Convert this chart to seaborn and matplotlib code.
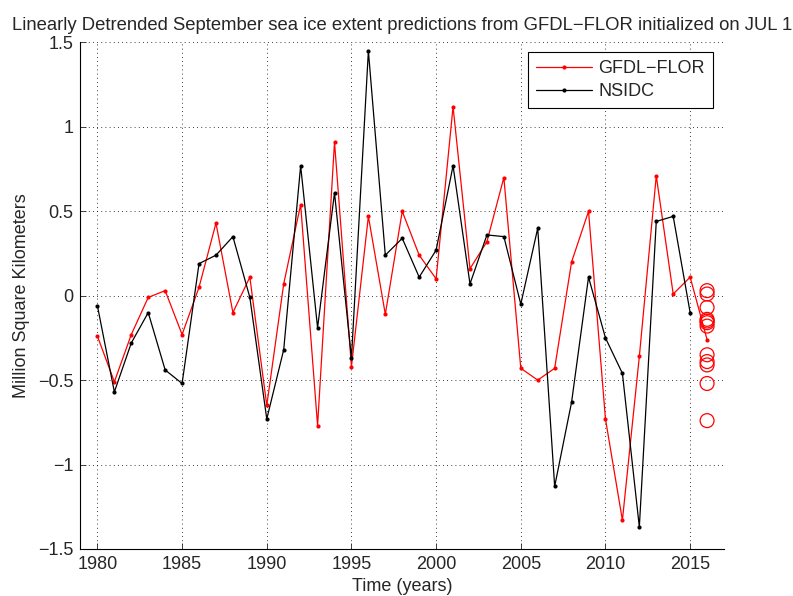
import numpy as np
import pandas as pd
import seaborn as sns
import matplotlib.pyplot as plt

years_model = list(range(1980, 2017))
gfdl_flor = [
    -0.24, -0.51, -0.23, -0.01, 0.03, -0.23, 0.05, 0.43, -0.10, 0.11,
    -0.65, 0.07, 0.54, -0.77, 0.91, -0.42, 0.47, -0.11, 0.50, 0.24,
    0.10, 1.12, 0.16, 0.32, 0.70, -0.43, -0.50, -0.43, 0.20, 0.50,
    -0.73, -1.33, -0.36, 0.71, 0.01, 0.11, -0.26,
]
years_obs = list(range(1980, 2016))
nsidc = [
    -0.06, -0.57, -0.28, -0.10, -0.44, -0.52, 0.19, 0.24, 0.35, -0.01,
    -0.73, -0.32, 0.77, -0.19, 0.61, -0.37, 1.45, 0.24, 0.34, 0.11,
    0.27, 0.77, 0.07, 0.36, 0.35, -0.05, 0.40, -1.13, -0.63, 0.11,
    -0.25, -0.46, -1.37, 0.44, 0.47, -0.10,
]
# 2016 ensemble members
ens_year = 2016
ens_members = [0.03, 0.01, -0.07, -0.14, -0.15, -0.16, -0.18, -0.35, -0.39, -0.41, -0.52, -0.74]

sns.set_style("ticks")
plt.rcParams["font.family"] = ["Liberation Sans", "DejaVu Sans"]
plt.rcParams["font.size"] = 13

fig = plt.figure(figsize=(7.93, 5.96), dpi=100)
ax = fig.add_axes([0.1015, 0.079, 0.8115, 0.8497])

df_model = pd.DataFrame({"year": years_model, "value": gfdl_flor})
df_obs = pd.DataFrame({"year": years_obs, "value": nsidc})
df_ens = pd.DataFrame({"year": [ens_year] * len(ens_members), "value": ens_members})

sns.lineplot(data=df_model, x="year", y="value", color="red", lw=0.9,
             marker=".", markersize=6, markeredgewidth=0, label="GFDL\u2212FLOR", ax=ax)
sns.lineplot(data=df_obs, x="year", y="value", color="black", lw=0.9,
             marker=".", markersize=6, markeredgewidth=0, label="NSIDC", ax=ax)
sns.scatterplot(data=df_ens, x="year", y="value", marker="o", s=100,
                facecolors="none", edgecolor="red", linewidth=0.9, legend=False, ax=ax)

ax.set_xlim(1979, 2017)
ax.set_ylim(-1.5, 1.5)
ax.set_xticks(range(1980, 2016, 5))
ax.set_yticks(np.arange(-1.5, 1.51, 0.5))
ax.set_yticklabels(["\u22121.5", "\u22121", "\u22120.5", "0", "0.5", "1", "1.5"])
ax.grid(True, color="black", linestyle=(0, (1, 4)), linewidth=0.6)
ax.tick_params(direction="in", length=4, width=0.6, labelsize=13, pad=5)
for s in ["top", "right"]:
    ax.spines[s].set_visible(False)
for s in ["left", "bottom"]:
    ax.spines[s].set_linewidth(0.8)
    ax.spines[s].set_color("black")

ax.set_title("Linearly Detrended September sea ice extent predictions from GFDL\u2212FLOR initialized on JUL 1",
             fontsize=13.3, pad=9)
ax.set_xlabel("Time (years)", fontsize=13, labelpad=4)
ax.set_ylabel("Million Square Kilometers", fontsize=13, labelpad=6)

leg = ax.legend(loc="upper right", bbox_to_anchor=(0.983, 0.981), borderaxespad=0,
                fancybox=False, edgecolor="black", framealpha=1, fontsize=13,
                handlelength=3.1, handletextpad=0.35, borderpad=0.45, labelspacing=0.31)
leg.get_frame().set_linewidth(0.8)

fig.savefig("out.png", dpi=100)
